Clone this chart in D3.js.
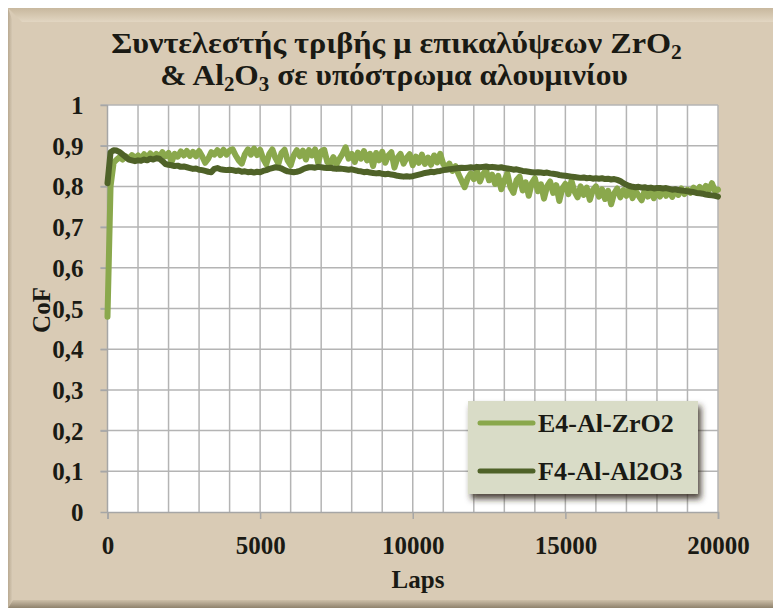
<!DOCTYPE html>
<html>
<head>
<meta charset="utf-8">
<script src="https://cdn.jsdelivr.net/npm/d3@7"></script>
<style>
  body { margin: 0; background: #ffffff; }
  text { font-family: 'Liberation Serif', 'Times New Roman', serif; font-weight: bold; fill: #1a1a14; }
</style>
<title>CoF</title>
</head>
<body>
<script>
// laps, every 100 from 0 to 20000
var laps = d3.range(0, 20001, 100);

// E4-Al-ZrO2 (one row per 1000 laps)
var zro2 = [
  0.48, 0.80, 0.858, 0.866, 0.872, 0.866, 0.874, 0.868, 0.877, 0.870, 0.876,
  0.869, 0.879, 0.871, 0.881, 0.872, 0.880, 0.873, 0.884, 0.874, 0.882,
  0.860, 0.880, 0.873, 0.886, 0.876, 0.887, 0.875, 0.885, 0.874, 0.887,
  0.874, 0.858, 0.868, 0.884, 0.878, 0.889, 0.877, 0.890, 0.878, 0.888,
  0.891, 0.876, 0.864, 0.856, 0.879, 0.891, 0.878, 0.893, 0.877, 0.890,
  0.868, 0.854, 0.880, 0.891, 0.870, 0.856, 0.882, 0.890, 0.864, 0.852,
  0.876, 0.889, 0.874, 0.888, 0.866, 0.889, 0.876, 0.891, 0.858, 0.886,
  0.890, 0.860, 0.856, 0.872, 0.854, 0.868, 0.880, 0.896, 0.868, 0.880,
  0.860, 0.883, 0.868, 0.887, 0.864, 0.880, 0.850, 0.882, 0.864, 0.885,
  0.858, 0.876, 0.884, 0.846, 0.870, 0.880, 0.856, 0.870, 0.879, 0.852,
  0.873, 0.858, 0.878, 0.855, 0.871, 0.853, 0.876, 0.859, 0.880, 0.855,
  0.846, 0.856, 0.838, 0.850, 0.830, 0.814, 0.798, 0.820, 0.832, 0.818,
  0.838, 0.812, 0.830, 0.840, 0.815, 0.829, 0.806, 0.826, 0.793, 0.814,
  0.832, 0.798, 0.784, 0.815, 0.824, 0.790, 0.810, 0.777, 0.808, 0.820,
  0.788, 0.805, 0.770, 0.800, 0.812, 0.784, 0.803, 0.764, 0.795, 0.806,
  0.781, 0.814, 0.787, 0.773, 0.800, 0.779, 0.797, 0.767, 0.791, 0.800,
  0.775, 0.793, 0.769, 0.789, 0.756, 0.783, 0.795, 0.773, 0.791, 0.777,
  0.795, 0.771, 0.789, 0.777, 0.766, 0.791, 0.775, 0.787, 0.771, 0.789,
  0.775, 0.793, 0.777, 0.789, 0.774, 0.791, 0.779, 0.795, 0.781, 0.792,
  0.784, 0.797, 0.785, 0.799, 0.787, 0.801, 0.791, 0.808, 0.789, 0.792
];

// F4-Al-Al2O3
var al2o3 = [
  0.808, 0.884, 0.889, 0.888, 0.884, 0.878, 0.872, 0.866, 0.864, 0.862, 0.864,
  0.863, 0.866, 0.864, 0.868, 0.866, 0.869, 0.868, 0.862, 0.855, 0.853,
  0.852, 0.850, 0.851, 0.848, 0.849, 0.847, 0.845, 0.843, 0.844, 0.841,
  0.840, 0.838, 0.836, 0.835, 0.843, 0.845, 0.842, 0.841, 0.840, 0.841,
  0.840, 0.838, 0.839, 0.836, 0.837, 0.835, 0.836, 0.834, 0.836, 0.835,
  0.838, 0.840, 0.843, 0.845, 0.847, 0.846, 0.844, 0.840, 0.837, 0.836,
  0.835, 0.836, 0.838, 0.842, 0.845, 0.847, 0.847, 0.846, 0.848, 0.847,
  0.846, 0.845, 0.846, 0.844, 0.843, 0.844, 0.843, 0.842, 0.841, 0.842,
  0.840, 0.838, 0.837, 0.835, 0.836, 0.834, 0.833, 0.832, 0.833, 0.831,
  0.830, 0.831, 0.829, 0.828, 0.826, 0.825, 0.824, 0.825, 0.824, 0.825,
  0.827, 0.829, 0.831, 0.833, 0.834, 0.836, 0.835, 0.837, 0.838, 0.840,
  0.841, 0.842, 0.843, 0.844, 0.845, 0.846, 0.845, 0.846, 0.847, 0.846,
  0.848, 0.847, 0.848, 0.849, 0.847, 0.848, 0.847, 0.846, 0.847, 0.845,
  0.844, 0.843, 0.841, 0.842, 0.840, 0.838, 0.837, 0.836, 0.835, 0.834,
  0.835, 0.834, 0.833, 0.834, 0.832, 0.831, 0.830, 0.828, 0.827, 0.826,
  0.825, 0.824, 0.823, 0.822, 0.821, 0.822, 0.820, 0.821, 0.819, 0.820,
  0.819, 0.820, 0.818, 0.819, 0.817, 0.818, 0.816, 0.813, 0.808, 0.804,
  0.801, 0.799, 0.798, 0.799, 0.797, 0.798, 0.796, 0.797, 0.795, 0.796,
  0.796, 0.795, 0.796, 0.794, 0.792, 0.793, 0.791, 0.790, 0.789, 0.788,
  0.787, 0.786, 0.784, 0.783, 0.782, 0.780, 0.779, 0.778, 0.777, 0.775
];

var seriesNames = ["E4-Al-ZrO2", "F4-Al-Al2O3"];
var colors = ["#8aa84c", "#4f6228"];
var xTicks = [0, 5000, 10000, 15000, 20000];
var yTicks = [0, 0.1, 0.2, 0.3, 0.4, 0.5, 0.6, 0.7, 0.8, 0.9, 1];

var width = 773, height = 613;
var plot = { left: 107.5, right: 718, top: 105, bottom: 512 };

var x = d3.scaleLinear().domain([0, 20000]).range([plot.left, plot.right]);
var y = d3.scaleLinear().domain([0, 1]).range([plot.bottom, plot.top]);

var svg = d3.select('body').append('svg')
  .attr('width', width)
  .attr('height', height);

var defs = svg.append('defs');
var shadow = defs.append('filter').attr('id', 'shadow')
  .attr('x', '-10%').attr('y', '-10%').attr('width', '130%').attr('height', '140%');
shadow.append('feDropShadow')
  .attr('dx', 3).attr('dy', 5).attr('stdDeviation', 3)
  .attr('flood-color', '#2e2614').attr('flood-opacity', 0.85);

var gTop = defs.append('linearGradient').attr('id', 'gTop').attr('x1', 0).attr('y1', 0).attr('x2', 0).attr('y2', 1);
gTop.append('stop').attr('offset', '0%').attr('stop-color', '#c8b89e');
gTop.append('stop').attr('offset', '100%').attr('stop-color', '#e2d6c2');
var gLeft = defs.append('linearGradient').attr('id', 'gLeft').attr('x1', 0).attr('y1', 0).attr('x2', 1).attr('y2', 0);
gLeft.append('stop').attr('offset', '0%').attr('stop-color', '#b9aa92');
gLeft.append('stop').attr('offset', '100%').attr('stop-color', '#dccfba');
var gBot = defs.append('linearGradient').attr('id', 'gBot').attr('x1', 0).attr('y1', 0).attr('x2', 0).attr('y2', 1);
gBot.append('stop').attr('offset', '0%').attr('stop-color', '#cdbfa8');
gBot.append('stop').attr('offset', '100%').attr('stop-color', '#8f826c');

// chart frame with a little bevel
var fx = 8, fy = 8, fw = width - 8, fh = 600;
svg.append('rect').attr('x', fx).attr('y', fy).attr('width', fw).attr('height', fh).attr('fill', '#d9cbb5');
svg.append('path').attr('fill', 'url(#gTop)')
  .attr('d', `M${fx},${fy}H${fx + fw}V${fy + 14}H${fx + 14}Z`);
svg.append('path').attr('fill', 'url(#gLeft)')
  .attr('d', `M${fx},${fy}L${fx + 5},${fy + 14}V${fy + fh - 8}L${fx},${fy + fh}Z`);
svg.append('path').attr('fill', 'url(#gBot)')
  .attr('d', `M${fx},${fy + fh}L${fx + 5},${fy + fh - 8}H${fx + fw}V${fy + fh}Z`);

// plot area
svg.append('rect')
  .attr('x', plot.left).attr('y', plot.top)
  .attr('width', plot.right - plot.left).attr('height', plot.bottom - plot.top)
  .attr('fill', '#ffffff');

// grid
svg.append('g').selectAll('line')
  .data(d3.range(1000, 20001, 1000))
  .enter().append('line')
  .attr('x1', d => x(d)).attr('x2', d => x(d))
  .attr('y1', plot.top).attr('y2', plot.bottom)
  .attr('stroke', '#b4b4b4').attr('stroke-width', 1.5);
svg.append('g').selectAll('line')
  .data(yTicks.slice(1))
  .enter().append('line')
  .attr('x1', plot.left - 7).attr('x2', plot.right)
  .attr('y1', d => y(d)).attr('y2', d => y(d))
  .attr('stroke', '#b4b4b4').attr('stroke-width', 1.5);

// axes
var yAxis = svg.append('g')
  .attr('transform', `translate(${plot.left},0)`)
  .call(d3.axisLeft(y).tickValues(yTicks).tickSize(7).tickFormat(d3.format('.1f')));
var xAxis = svg.append('g')
  .attr('transform', `translate(0,${plot.bottom})`)
  .call(d3.axisBottom(x).tickValues(xTicks).tickSize(7).tickFormat(d => d));
[yAxis, xAxis].forEach(function (a) {
  a.select('.domain').attr('stroke', '#a6a6a6').attr('stroke-width', 1.5);
  a.selectAll('.tick line').attr('stroke', '#a6a6a6').attr('stroke-width', 1.5);
  a.selectAll('text').attr('fill', '#1a1a14').style('font-size', '25px')
    .style('font-family', "'Liberation Serif', serif").style('font-weight', 'bold');
});
yAxis.selectAll('.domain').attr('d', `M0,${plot.top}V${plot.bottom}`);
yAxis.selectAll('text')
  .text(d => d === 0 || d === 1 ? d : String(d.toFixed(1)).replace('.', ','))
  .attr('x', -24).attr('dy', '0.34em');
xAxis.selectAll('text').attr('y', 24).attr('dy', '0.71em');

// series
var line = d3.line()
  .x((d, i) => x(laps[i]))
  .y(d => y(d));
[zro2, al2o3].forEach(function (s, i) {
  svg.append('path')
    .attr('d', line(s))
    .attr('fill', 'none')
    .attr('stroke', colors[i])
    .attr('stroke-width', 6)
    .attr('stroke-linejoin', 'round')
    .attr('stroke-linecap', 'round');
});

// title: two lines, fitted to the width they take in the picture
function titleLine(cx, by, targetW, parts) {
  var t = svg.append('text').attr('text-anchor', 'middle')
    .style('font-family', "'Liberation Serif', serif").style('font-size', '30px');
  parts.forEach(function (p) {
    var sp = t.append('tspan').text(p[0]);
    if (p[1]) sp.style('font-size', '20px').attr('dy', 6);
    else if (p[2]) sp.attr('dy', -6);
  });
  var w = t.node().getBBox().width;
  t.attr('transform', `translate(${cx},${by}) scale(${targetW / w},1)`);
}
titleLine(396.5, 53, 571, [['Συντελεστής τριβής μ επικαλύψεων  ZrO'], ['2', true]]);
titleLine(394, 85, 468, [['& Al'], ['2', true], ['O', false, true], ['3', true], [' σε υπόστρωμα αλουμινίου', false, true]]);

// axis titles
svg.append('text').attr('x', 418).attr('y', 588).attr('text-anchor', 'middle')
  .style('font-size', '25px').text('Laps');
svg.append('text').attr('transform', 'translate(50,310) rotate(-90)')
  .attr('text-anchor', 'middle').style('font-size', '25px').text('CoF');

// legend
var legend = svg.append('g');
legend.append('rect')
  .attr('x', 468).attr('y', 401).attr('width', 230).attr('height', 93)
  .attr('fill', '#d9dcc7').attr('filter', 'url(#shadow)');
seriesNames.forEach(function (name, i) {
  var ly = 423 + i * 48;
  legend.append('line')
    .attr('x1', 480).attr('x2', 533).attr('y1', ly).attr('y2', ly)
    .attr('stroke', colors[i]).attr('stroke-width', 5).attr('stroke-linecap', 'round');
  legend.append('text').attr('x', 538).attr('y', ly + 9)
    .style('font-size', '26px').text(name);
});
</script>
</body>
</html>
